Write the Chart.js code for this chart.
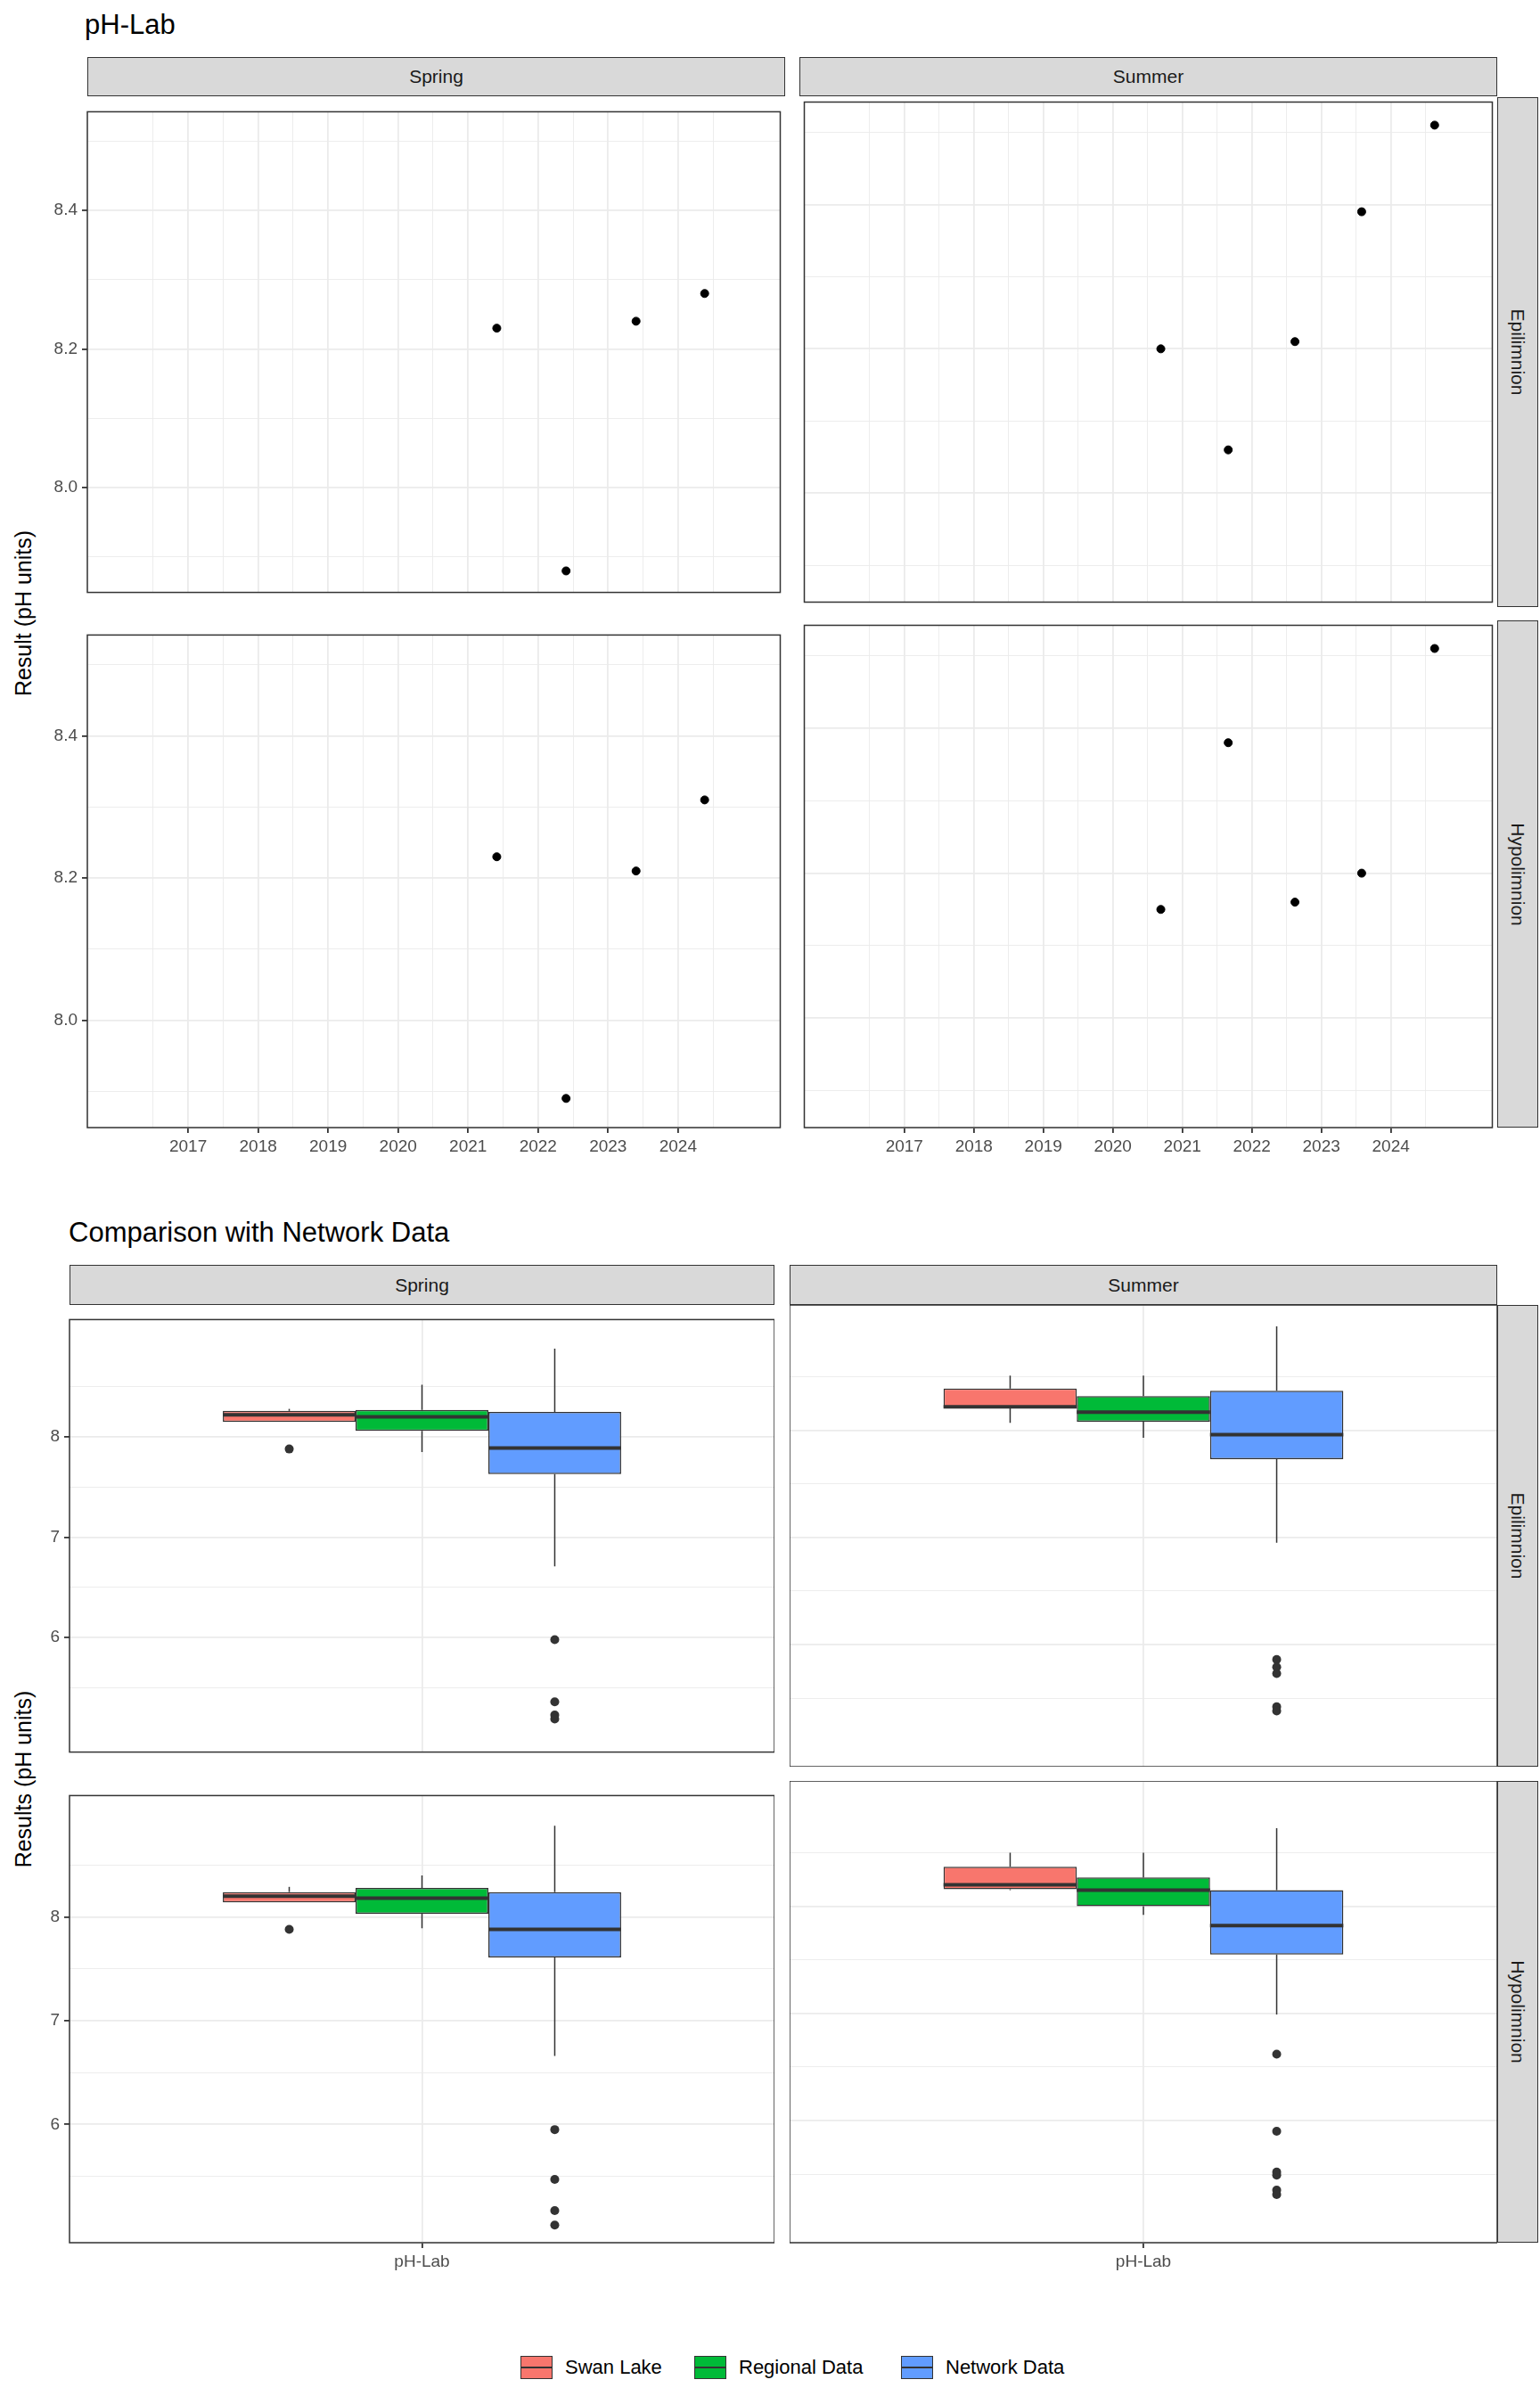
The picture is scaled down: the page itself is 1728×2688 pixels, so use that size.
<!DOCTYPE html>
<html><head><meta charset="utf-8">
<script src="https://cdn.jsdelivr.net/npm/chart.js@4"></script>
<style>
body{margin:0;width:1728px;height:2688px;background:#fff;font-family:Arial,"Liberation Sans",sans-serif;position:relative;overflow:hidden}
.abs{position:absolute}
.strip{position:absolute;background:#d9d9d9;border:1.5px solid #333;box-sizing:border-box;display:flex;align-items:center;justify-content:center;font-size:21px;color:#1a1a1a}
.rs span{transform:rotate(90deg);white-space:nowrap}
.title{position:absolute;font-size:31px;color:#000}
.ytitle{position:absolute;font-size:25px;transform:translate(-50%,-50%) rotate(-90deg);white-space:nowrap}
.leg{position:absolute;top:2643px;display:flex;align-items:center;font-size:22px}
.key{width:36px;height:26px;border:1.5px solid #333;box-sizing:border-box;position:relative;margin-right:14px}
.key:after{content:"";position:absolute;left:0;right:0;top:11px;border-top:2.5px solid #333}
</style></head><body>
<script>
// ---- Data ----
const seasons = ["Spring","Summer"];
const layers = ["Epilimnion","Hypolimnion"];
const yearTicks = [2016,2017,2018,2019,2020,2021,2022,2023,2024,2025];
const springEpiX = [2021.41,2022.40,2023.40,2024.38];
const springEpiY = [8.23,7.88,8.24,8.28];
const summerEpiX = [2020.69,2021.66,2022.62,2023.58,2024.63];
const summerEpiY = [8.20,8.06,8.21,8.39,8.51];
const springHypX = [2021.41,2022.40,2023.40,2024.38];
const springHypY = [8.23,7.89,8.21,8.31];
const summerHypX = [2020.69,2021.66,2022.62,2023.58,2024.63];
const summerHypY = [8.15,8.38,8.16,8.20,8.51];

const groups = ["Swan Lake","Regional Data","Network Data"];
const groupColors = ["#F8766D","#00BA38","#619CFF"];
const boxCategory = ["pH-Lab"];
// [whiskerLow, q1, median, q3, whiskerHigh]
const springEpiBox = [[8.15,8.15,8.22,8.26,8.28],[7.85,8.06,8.20,8.27,8.52],[6.71,7.63,7.89,8.25,8.88]];
const springEpiOut = [[7.88],[],[5.98,5.36,5.23,5.19]];
const summerEpiBox = [[8.07,8.21,8.22,8.39,8.51],[7.93,8.08,8.17,8.32,8.51],[6.95,7.73,7.96,8.37,8.97]];
const summerEpiOut = [[],[],[5.86,5.79,5.73,5.42,5.38]];
const springHypBox = [[8.14,8.14,8.20,8.24,8.29],[7.89,8.03,8.18,8.28,8.40],[6.66,7.61,7.88,8.24,8.88]];
const springHypOut = [[7.88],[],[5.95,5.47,5.17,5.03]];
const summerHypBox = [[8.15,8.16,8.20,8.37,8.50],[7.92,8.00,8.15,8.27,8.50],[6.99,7.55,7.82,8.15,8.73]];
const summerHypOut = [[],[],[6.62,5.90,5.52,5.49,5.35,5.31]];

const TICK='#4d4d4d', GRID='#ebebeb';
function el(tag,cls,style,html){const e=document.createElement(tag);if(cls)e.className=cls;Object.assign(e.style,style);if(html!==undefined)e.innerHTML=html;document.body.appendChild(e);return e;}
const borderPlugin={id:'pb',afterDraw(c){const a=c.chartArea,x=c.ctx;x.save();x.strokeStyle='#333';x.lineWidth=1.5;x.strokeRect(a.left,a.top,a.right-a.left,a.bottom-a.top);x.restore();}};
const boxPlugin={id:'bx',afterDatasetsDraw(c){const st=c.options.plugins.bx;if(!st)return;const y=c.scales.y,x=c.ctx;x.save();
 st.box.forEach((b,i)=>{const bar=c.getDatasetMeta(i).data[0];const cx=bar.x,w=bar.width;
  x.strokeStyle='#333';x.lineWidth=1.5;x.beginPath();
  x.moveTo(cx,y.getPixelForValue(b[4]));x.lineTo(cx,y.getPixelForValue(b[3]));
  x.moveTo(cx,y.getPixelForValue(b[1]));x.lineTo(cx,y.getPixelForValue(b[0]));x.stroke();
  x.lineWidth=4;x.beginPath();x.moveTo(cx-w/2,y.getPixelForValue(b[2]));x.lineTo(cx+w/2,y.getPixelForValue(b[2]));x.stroke();
  x.fillStyle='#333';st.out[i].forEach(v=>{x.beginPath();x.arc(cx,y.getPixelForValue(v),5,0,Math.PI*2);x.fill();});
 });x.restore();}};

function mkCanvas(left,top,w,h){const c=el('canvas','abs',{left:left+'px',top:top+'px'});c.width=w;c.height=h;return c;}

function yScale(min,max,step,leftCol,axisW,fmt){return {type:'linear',min,max,
 afterFit(s){s.width=axisW;},
 border:{display:false},
 grid:{color:GRID,lineWidth:ctx=>fmt(ctx.tick.value)!==''?1.8:0.9,tickColor:ctx=>fmt(ctx.tick.value)!==''?'#333':'rgba(0,0,0,0)',tickLength:6,drawTicks:leftCol},
 ticks:{display:leftCol,stepSize:step,color:TICK,font:{size:19,family:'Arial'},padding:5,callback:v=>fmt(v)}};}

// ---- Top section ----
el('div','title',{left:'95px',top:'10px'},'pH-Lab');
el('div','ytitle',{left:'26px',top:'688px'},'Result (pH units)');
const topCols=[[98,881],[897,1680]], topRows=[[109,681],[696,1265]];
const topX=[[springEpiX,summerEpiX],[springHypX,summerHypX]];
const topY=[[springEpiY,summerEpiY],[springHypY,summerHypY]];
seasons.forEach((s,ci)=>el('div','strip',{left:topCols[ci][0]+'px',top:'64px',width:(topCols[ci][1]-topCols[ci][0])+'px',height:'44px'},s));
layers.forEach((l,ri)=>el('div','strip rs',{left:'1680px',top:topRows[ri][0]+'px',width:'46px',height:(topRows[ri][1]-topRows[ri][0])+'px'},'<span>'+l+'</span>'));
const fmtTopY=v=>{const r=Math.round(v*10);return (Math.abs(v*10-r)<1e-6&&r%2===0)?(r/10).toFixed(1):'';};
const fmtYear=v=>(Math.abs(v-Math.round(v))<1e-6&&yearTicks.includes(Math.round(v)))?String(Math.round(v)):'';
topRows.forEach((r,ri)=>topCols.forEach((c,ci)=>{
 const leftCol=ci===0,bottom=ri===1,axisW=leftCol?c[0]:0,axisH=bottom?45:0;
 const cv=mkCanvas(c[0]-axisW,r[0],c[1]-c[0]+axisW,r[1]-r[0]+axisH);
 new Chart(cv,{type:'scatter',plugins:[borderPlugin],
  data:{datasets:[{data:topX[ri][ci].map((x,i)=>({x,y:topY[ri][ci][i]})),backgroundColor:'#000',borderColor:'#000',pointRadius:4.5}]},
  options:{responsive:false,animation:false,devicePixelRatio:1,layout:{padding:0},plugins:{legend:{display:false},tooltip:{enabled:false}},
   scales:{x:{type:'linear',min:2015.56,max:2025.46,afterFit(s){s.height=axisH;},border:{display:false},
     grid:{color:GRID,lineWidth:ctx=>fmtYear(ctx.tick.value)!==''?1.8:0.9,tickColor:ctx=>fmtYear(ctx.tick.value)!==''?'#333':'rgba(0,0,0,0)',tickLength:6,drawTicks:bottom},
     ticks:{display:bottom,stepSize:0.5,autoSkip:false,maxRotation:0,color:TICK,font:{size:19,family:'Arial'},padding:4,callback:v=>fmtYear(v)}},
    y:yScale(7.849,8.542,0.1,leftCol,axisW,fmtTopY)}}});
}));

// ---- Bottom section ----
el('div','title',{left:'77px',top:'1365px'},'Comparison with Network Data');
el('div','ytitle',{left:'26px',top:'1996px'},'Results (pH units)');
const botCols=[[78,869],[886,1680]], botRows=[[1464,1982],[1998,2516]];
const boxes=[[springEpiBox,summerEpiBox],[springHypBox,summerHypBox]];
const outs=[[springEpiOut,summerEpiOut],[springHypOut,summerHypOut]];
seasons.forEach((s,ci)=>el('div','strip',{left:botCols[ci][0]+'px',top:'1419px',width:(botCols[ci][1]-botCols[ci][0])+'px',height:'45px'},s));
layers.forEach((l,ri)=>el('div','strip rs',{left:'1680px',top:botRows[ri][0]+'px',width:'46px',height:(botRows[ri][1]-botRows[ri][0])+'px'},'<span>'+l+'</span>'));
const fmtBotY=v=>(Math.abs(v-Math.round(v))<1e-6)?String(Math.round(v)):'';
botRows.forEach((r,ri)=>botCols.forEach((c,ci)=>{
 const leftCol=ci===0,bottom=ri===1,axisW=leftCol?c[0]:0,axisH=bottom?45:0;
 const cv=mkCanvas(c[0]-axisW,r[0],c[1]-c[0]+axisW,r[1]-r[0]+axisH);
 const bx=boxes[ri][ci];
 new Chart(cv,{type:'bar',plugins:[borderPlugin,boxPlugin],
  data:{labels:boxCategory,datasets:groups.map((g,i)=>({label:g,data:[[bx[i][1],bx[i][3]]],backgroundColor:groupColors[i],borderColor:'#333',borderWidth:1.5,borderSkipped:false,barPercentage:1,categoryPercentage:0.565}))},
  options:{responsive:false,animation:false,devicePixelRatio:1,layout:{padding:0},
   plugins:{legend:{display:false},tooltip:{enabled:false},bx:{box:bx,out:outs[ri][ci]}},
   scales:{x:{afterFit(s){s.height=axisH;},border:{display:false},grid:{offset:false,color:GRID,lineWidth:1.8,tickColor:'#333',tickLength:6,drawTicks:bottom},
     ticks:{display:bottom,color:TICK,font:{size:19,family:'Arial'},padding:4}},
    y:yScale(4.86,9.17,0.5,leftCol,axisW,fmtBotY)}}});
}));

// ---- Legend ----
const legX=[584,779,1011];
groups.forEach((g,i)=>{const d=el('div','leg',{left:legX[i]+'px'});d.innerHTML='<div class="key" style="background:'+groupColors[i]+'"></div><span>'+g+'</span>';});
</script>
</body></html>
